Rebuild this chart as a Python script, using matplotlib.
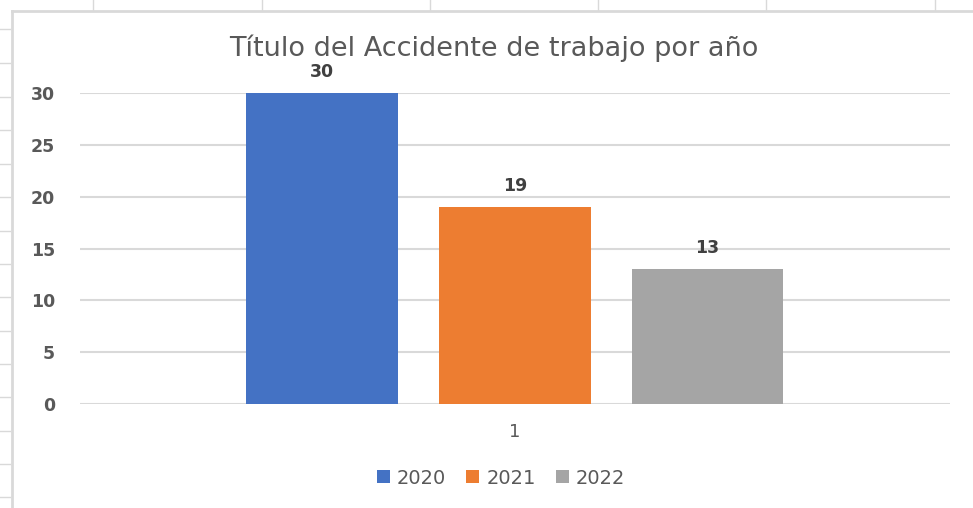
import matplotlib.pyplot as plt
from matplotlib.lines import Line2D

# Datos del gráfico
years = ['2020', '2021', '2022']
accidents = [30, 19, 13]
colors = ['#4472C4', '#ED7D31', '#A5A5A5']
category = '1'
yticks = [0, 5, 10, 15, 20, 25, 30]

W, H = 973, 508
fig = plt.figure(figsize=(W / 100, H / 100), dpi=100)

def fx(px):
    return px / W

def fy(py):
    return 1 - py / H

# Spreadsheet background: chart frame and cell marks
grid_col = '#d9d9d9'
fig.add_artist(Line2D([fx(12), fx(12)], [fy(11), 0], color=grid_col, lw=2))
fig.add_artist(Line2D([fx(12), 1], [fy(11), fy(11)], color=grid_col, lw=2))
for x in [93, 262, 430, 598, 766, 935]:
    fig.add_artist(Line2D([fx(x), fx(x)], [1, fy(10)], color=grid_col, lw=1))
for y in [29, 63, 97, 130, 164, 197, 231, 264, 297, 331, 364, 397, 431, 464, 497]:
    fig.add_artist(Line2D([0, fx(10)], [fy(y), fy(y)], color=grid_col, lw=1))

# Plot area
ax = fig.add_axes([fx(80), fy(404), fx(950) - fx(80), fy(93) - fy(404)])
offsets = [-0.222, 0.0, 0.221]
width = 0.174
for off, yr, val, c in zip(offsets, years, accidents, colors):
    ax.bar(off, val, width=width, color=c, label=yr, zorder=3)
    ax.text(off, val + 1.2, str(val), ha='center', va='bottom',
            fontsize=12.5, fontweight='bold', color='#404040', clip_on=False)

ax.set_xlim(-0.5, 0.5)
ax.set_ylim(0, 30)
ax.set_yticks(yticks)
ax.set_yticklabels([str(t) for t in yticks], fontsize=12.5, fontweight='bold',
                   color='#595959')
ax.set_xticks([0])
ax.set_xticklabels([category], fontsize=13, color='#595959')
ax.tick_params(axis='y', length=0, pad=18)
ax.tick_params(axis='x', length=0, pad=14)
ax.grid(axis='y', color='#d9d9d9', lw=1.5, zorder=0)
for s in ax.spines.values():
    s.set_visible(False)
ax.set_facecolor('none')

fig.text(fx(494), fy(48), 'Título del Accidente de trabajo por año',
         ha='center', va='center', fontsize=19.5, color='#595959')

fig.legend(loc='center', bbox_to_anchor=(fx(501), fy(478)), ncol=3,
           frameon=False, fontsize=14, handlelength=0.67, handleheight=0.67,
           handletextpad=0.36, columnspacing=1.05, labelcolor='#595959')

fig.savefig('out.png', dpi=100)
